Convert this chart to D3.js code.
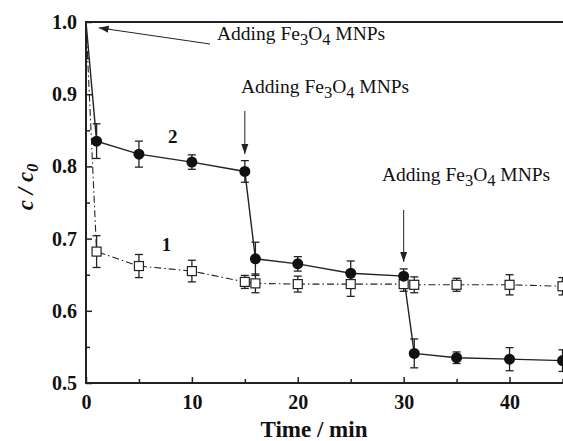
<!DOCTYPE html>
<html>
<head>
<meta charset="utf-8">
<script src="https://cdn.jsdelivr.net/npm/d3@7"></script>
<style>
body { margin: 0; background: #fff; }
</style>
</head>
<body>
<div id="root"></div>
<script>
var SERIF = "'Liberation Serif', 'Times New Roman', Times, serif";

// Time points (min)
var times = [0, 1, 5, 10, 15, 16, 20, 25, 30, 31, 35, 40, 45];

// Curve 1 (open squares, dash-dot)
var series1 = [1.0, 0.682, 0.662, 0.655, 0.640, 0.638, 0.637, 0.637, 0.637, 0.636, 0.636, 0.636, 0.634];
var err1 = [0, 0.022, 0.016, 0.015, 0.009, 0.013, 0.011, 0.017, 0.010, 0.011, 0.009, 0.014, 0.012];

// Curve 2 (filled circles, solid)
var series2 = [1.0, 0.835, 0.817, 0.806, 0.793, 0.672, 0.665, 0.652, 0.648, 0.541, 0.535, 0.533, 0.531];
var err2 = [0, 0.024, 0.018, 0.010, 0.015, 0.023, 0.010, 0.017, 0.010, 0.020, 0.008, 0.016, 0.015];

var xTicks = [0, 10, 20, 30, 40];
var yTicks = [0.5, 0.6, 0.7, 0.8, 0.9, 1.0];

// Annotations: arrow tip at [time, value]
var notes = [
  {at: [1.2, 0.992]},
  {at: [15, 0.803]},
  {at: [30, 0.658]}
];

var W = 563, H = 441;

var svg = d3.select("#root").append("svg")
  .attr("width", W).attr("height", H)
  .style("font-family", SERIF);

var x = d3.scaleLinear().domain([0, 45]).range([86, 562.5]);
var y = d3.scaleLinear().domain([0.5, 1.0]).range([383, 22]);

// frame
svg.append("line").attr("x1", x(0)).attr("x2", W + 5).attr("y1", y(1)).attr("y2", y(1))
  .attr("stroke", "#222").attr("stroke-width", 2);
svg.append("line").attr("x1", x(0)).attr("x2", W + 5).attr("y1", y(0.5)).attr("y2", y(0.5))
  .attr("stroke", "#222").attr("stroke-width", 2);
svg.append("line").attr("x1", x(0)).attr("x2", x(0)).attr("y1", y(1) - 1).attr("y2", y(0.5) + 1)
  .attr("stroke", "#222").attr("stroke-width", 2);

// x axis
var xAxis = svg.append("g")
  .attr("transform", "translate(0," + y(0.5) + ")")
  .call(d3.axisBottom(x).tickValues(xTicks).tickSize(-6).tickPadding(12).tickFormat(d3.format("d")));
xAxis.attr("font-family", null);
xAxis.select(".domain").remove();
xAxis.selectAll("line").attr("stroke", "#222").attr("stroke-width", 1.5);
xAxis.selectAll("text").attr("font-size", 20).attr("font-weight", "bold").attr("fill", "#111")
  .style("font-family", SERIF);

var xMinor = svg.append("g")
  .attr("transform", "translate(0," + y(0.5) + ")")
  .call(d3.axisBottom(x).tickValues([5, 15, 25, 35, 45]).tickSize(-4).tickFormat(""));
xMinor.select(".domain").remove();
xMinor.selectAll("line").attr("stroke", "#222").attr("stroke-width", 1.5);

// y axis
var yAxis = svg.append("g")
  .attr("transform", "translate(" + x(0) + ",0)")
  .call(d3.axisLeft(y).tickValues(yTicks).tickSize(-6).tickPadding(9).tickFormat(d3.format(".1f")));
yAxis.attr("font-family", null);
yAxis.select(".domain").remove();
yAxis.selectAll("line").attr("stroke", "#222").attr("stroke-width", 1.5);
yAxis.selectAll("text").attr("font-size", 20).attr("font-weight", "bold").attr("fill", "#111")
  .style("font-family", SERIF);

var yMinor = svg.append("g")
  .attr("transform", "translate(" + x(0) + ",0)")
  .call(d3.axisLeft(y).tickValues([0.55, 0.65, 0.75, 0.85, 0.95]).tickSize(-4).tickFormat(""));
yMinor.select(".domain").remove();
yMinor.selectAll("line").attr("stroke", "#222").attr("stroke-width", 1.5);

// axis titles
svg.append("text")
  .attr("x", 314).attr("y", 437)
  .attr("text-anchor", "middle")
  .attr("font-size", 23).attr("font-weight", "bold").attr("fill", "#111")
  .text("Time / min");

var yl = svg.append("text")
  .attr("transform", "translate(33,187) rotate(-90)")
  .attr("text-anchor", "middle")
  .attr("font-size", 23).attr("font-weight", "bold").attr("font-style", "italic").attr("fill", "#111");
yl.append("tspan").text("c / c");
yl.append("tspan").attr("font-size", 16).attr("dy", 5).text("0");

// data
var d1 = times.map(function (t, i) { return {t: t, v: series1[i], e: err1[i]}; });
var d2 = times.map(function (t, i) { return {t: t, v: series2[i], e: err2[i]}; });

var line = d3.line().x(function (d) { return x(d.t); }).y(function (d) { return y(d.v); });

svg.append("path").datum(d1).attr("d", line)
  .attr("fill", "none").attr("stroke", "#222").attr("stroke-width", 1.1)
  .attr("stroke-dasharray", "7,3,1.5,3");
svg.append("path").datum(d2).attr("d", line)
  .attr("fill", "none").attr("stroke", "#222").attr("stroke-width", 1.4);

// error bars
function errorBars(data) {
  var g = svg.append("g").attr("stroke", "#222").attr("stroke-width", 1.3);
  data.filter(function (d) { return d.e > 0; }).forEach(function (d) {
    var cx = x(d.t), y0 = y(d.v - d.e), y1 = y(d.v + d.e);
    g.append("line").attr("x1", cx).attr("x2", cx).attr("y1", y0).attr("y2", y1);
    g.append("line").attr("x1", cx - 4).attr("x2", cx + 4).attr("y1", y0).attr("y2", y0);
    g.append("line").attr("x1", cx - 4).attr("x2", cx + 4).attr("y1", y1).attr("y2", y1);
  });
}
errorBars(d1);
errorBars(d2);

// markers
svg.selectAll(".sq").data(d1.slice(1)).enter().append("rect")
  .attr("x", function (d) { return x(d.t) - 4.5; })
  .attr("y", function (d) { return y(d.v) - 4.5; })
  .attr("width", 9).attr("height", 9)
  .attr("fill", "#fff").attr("stroke", "#222").attr("stroke-width", 1.2);

svg.selectAll(".dot").data(d2.slice(1)).enter().append("circle")
  .attr("cx", function (d) { return x(d.t); })
  .attr("cy", function (d) { return y(d.v); })
  .attr("r", 5.5)
  .attr("fill", "#111");

// curve labels
svg.append("text").attr("x", x(8.2)).attr("y", y(0.832)).attr("text-anchor", "middle")
  .attr("font-size", 19).attr("font-weight", "bold").attr("fill", "#111").text("2");
svg.append("text").attr("x", x(7.6)).attr("y", y(0.683)).attr("text-anchor", "middle")
  .attr("font-size", 19).attr("font-weight", "bold").attr("fill", "#111").text("1");

// arrow marker
svg.append("defs").append("marker")
  .attr("id", "arrow").attr("viewBox", "0 0 10 10")
  .attr("refX", 10).attr("refY", 5)
  .attr("markerWidth", 10).attr("markerHeight", 10)
  .attr("markerUnits", "userSpaceOnUse")
  .attr("orient", "auto")
  .append("path").attr("d", "M0,1.5 L10,5 L0,8.5 Z").attr("fill", "#222");

function label(tx, ty) {
  var t = svg.append("text").attr("x", tx).attr("y", ty)
    .attr("font-size", 19.5).attr("fill", "#111");
  t.append("tspan").text("Adding Fe");
  t.append("tspan").attr("font-size", 16.5).attr("dy", 5).text("3");
  t.append("tspan").attr("dy", -5).text("O");
  t.append("tspan").attr("font-size", 16.5).attr("dy", 5).text("4");
  t.append("tspan").attr("dy", -5).text(" MNPs");
}

// annotation 1
label(217, 40);
svg.append("line").attr("x1", 210).attr("y1", 44).attr("x2", x(notes[0].at[0])).attr("y2", y(notes[0].at[1]))
  .attr("stroke", "#222").attr("stroke-width", 1).attr("marker-end", "url(#arrow)");
// annotation 2
label(241, 93);
svg.append("line").attr("x1", x(notes[1].at[0])).attr("y1", 111).attr("x2", x(notes[1].at[0])).attr("y2", 154)
  .attr("stroke", "#222").attr("stroke-width", 1).attr("marker-end", "url(#arrow)");
// annotation 3
label(382, 181);
svg.append("line").attr("x1", x(notes[2].at[0])).attr("y1", 210).attr("x2", x(notes[2].at[0])).attr("y2", 262)
  .attr("stroke", "#222").attr("stroke-width", 1).attr("marker-end", "url(#arrow)");
</script>
</body>
</html>
